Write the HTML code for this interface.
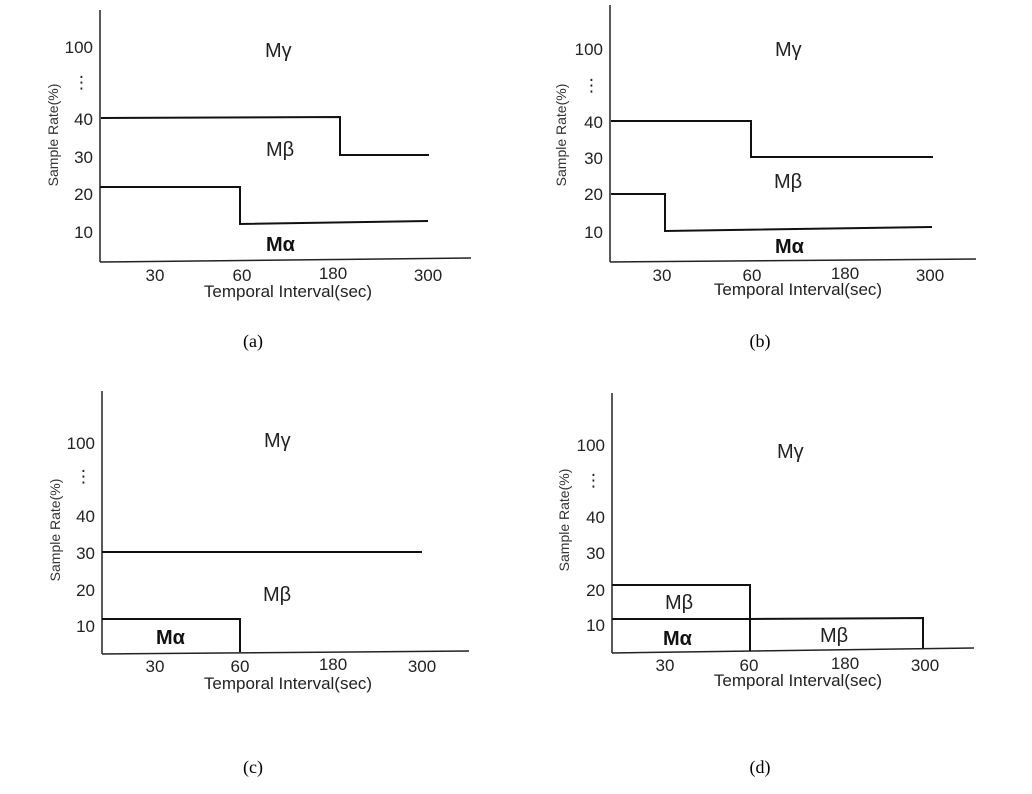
<!DOCTYPE html>
<html><head><meta charset="utf-8"><style>
html,body{margin:0;padding:0;background:#fff;}
svg{display:block;}
.t{font-family:"Liberation Sans","DejaVu Sans",sans-serif;font-size:17px;fill:#222;}
.s{font-family:"Liberation Sans","DejaVu Sans",sans-serif;font-size:14px;fill:#333;}
.m{font-family:"Liberation Sans","DejaVu Sans",sans-serif;font-size:20px;fill:#222;}
.b{font-family:"Liberation Sans","DejaVu Sans",sans-serif;font-size:20px;font-weight:bold;fill:#111;}
.c{font-family:"Liberation Serif",serif;font-size:18px;fill:#000;}
line,polyline{stroke:#111;stroke-width:2;fill:none;}
.ax{stroke:#222;stroke-width:1.5;}
</style></head><body>
<svg width="1032" height="794" viewBox="0 0 1032 794">
<!-- (a) -->
<g>
<line class="ax" x1="100" y1="10" x2="100" y2="262"/>
<line class="ax" x1="100" y1="262" x2="471" y2="258"/>
<g class="t" text-anchor="end">
<text x="93" y="53">100</text><text x="90" y="88">⋮</text>
<text x="93" y="125">40</text><text x="93" y="163">30</text>
<text x="93" y="200">20</text><text x="93" y="238">10</text>
</g>
<text class="s" transform="translate(58,135) rotate(-90)" text-anchor="middle">Sample Rate(%)</text>
<g class="t" text-anchor="middle">
<text x="155" y="281">30</text><text x="242" y="281">60</text>
<text x="333" y="279">180</text><text x="428" y="281">300</text>
<text x="288" y="297">Temporal Interval(sec)</text>
</g>
<polyline points="101,118 340,117 340,155 429,155"/>
<polyline points="100,187 240,187 240,224 428,221"/>
<text class="m" x="265" y="57">Mγ</text>
<text class="m" x="266" y="156">Mβ</text>
<text class="b" x="266" y="251">Mα</text>
<text class="c" x="253" y="347" text-anchor="middle">(a)</text>
</g>
<!-- (b) -->
<g>
<line class="ax" x1="610" y1="5" x2="610" y2="262"/>
<line class="ax" x1="610" y1="262" x2="976" y2="259"/>
<g class="t" text-anchor="end">
<text x="603" y="55">100</text><text x="600" y="91">⋮</text>
<text x="603" y="128">40</text><text x="603" y="164">30</text>
<text x="603" y="200">20</text><text x="603" y="238">10</text>
</g>
<text class="s" transform="translate(566,135) rotate(-90)" text-anchor="middle">Sample Rate(%)</text>
<g class="t" text-anchor="middle">
<text x="662" y="281">30</text><text x="752" y="281">60</text>
<text x="845" y="279">180</text><text x="930" y="281">300</text>
<text x="798" y="295">Temporal Interval(sec)</text>
</g>
<polyline points="611,121 751,121 751,157 933,157"/>
<polyline points="611,194 665,194 665,231 932,227"/>
<text class="m" x="775" y="56">Mγ</text>
<text class="m" x="774" y="188">Mβ</text>
<text class="b" x="775" y="253">Mα</text>
<text class="c" x="760" y="347" text-anchor="middle">(b)</text>
</g>
<!-- (c) -->
<g>
<line class="ax" x1="102" y1="391" x2="102" y2="654"/>
<line class="ax" x1="102" y1="654" x2="469" y2="651"/>
<g class="t" text-anchor="end">
<text x="95" y="449">100</text><text x="92" y="482">⋮</text>
<text x="95" y="522">40</text><text x="95" y="559">30</text>
<text x="95" y="596">20</text><text x="95" y="632">10</text>
</g>
<text class="s" transform="translate(60,530) rotate(-90)" text-anchor="middle">Sample Rate(%)</text>
<g class="t" text-anchor="middle">
<text x="155" y="672">30</text><text x="240" y="672">60</text>
<text x="333" y="670">180</text><text x="422" y="672">300</text>
<text x="288" y="689">Temporal Interval(sec)</text>
</g>
<line x1="102" y1="552" x2="422" y2="552"/>
<polyline points="102,619 240,619 240,652"/>
<text class="m" x="264" y="447">Mγ</text>
<text class="m" x="263" y="601">Mβ</text>
<text class="b" x="156" y="644">Mα</text>
<text class="c" x="253" y="773" text-anchor="middle">(c)</text>
</g>
<!-- (d) -->
<g>
<line class="ax" x1="612" y1="393" x2="612" y2="653"/>
<line class="ax" x1="612" y1="653" x2="974" y2="648"/>
<g class="t" text-anchor="end">
<text x="605" y="451">100</text><text x="602" y="486">⋮</text>
<text x="605" y="523">40</text><text x="605" y="559">30</text>
<text x="605" y="596">20</text><text x="605" y="631">10</text>
</g>
<text class="s" transform="translate(569,520) rotate(-90)" text-anchor="middle">Sample Rate(%)</text>
<g class="t" text-anchor="middle">
<text x="665" y="671">30</text><text x="749" y="671">60</text>
<text x="845" y="669">180</text><text x="925" y="671">300</text>
<text x="798" y="686">Temporal Interval(sec)</text>
</g>
<polyline points="612,585 750,585 750,651"/>
<polyline points="612,619 750,619 923,618 923,648"/>
<text class="m" x="777" y="458">Mγ</text>
<text class="m" x="665" y="609">Mβ</text>
<text class="m" x="820" y="642">Mβ</text>
<text class="b" x="663" y="645">Mα</text>
<text class="c" x="760" y="773" text-anchor="middle">(d)</text>
</g>
</svg>
</body></html>
